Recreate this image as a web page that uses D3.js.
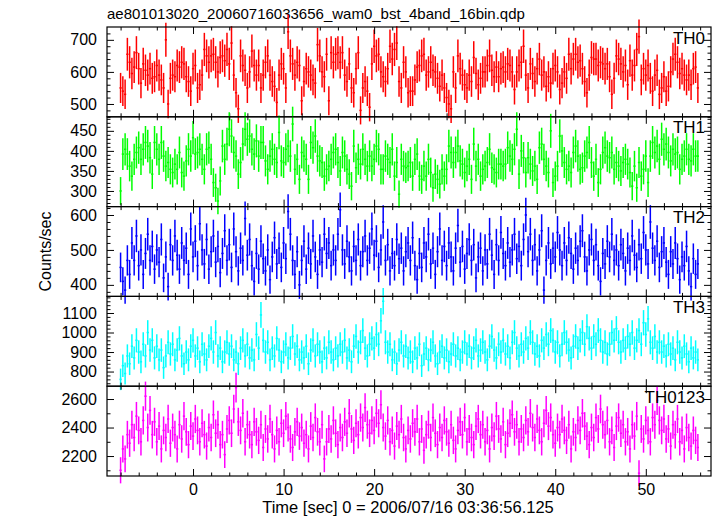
<!DOCTYPE html>
<html><head><meta charset="utf-8">
<script src="https://cdn.jsdelivr.net/npm/d3@7"></script>
<style>body{margin:0;background:#fff}svg{display:block}</style>
</head><body>
<svg id="chart" width="717" height="516"></svg>
<script>
const title = "ae801013020_20060716033656_wam0_bst_4band_16bin.qdp";
const xLabel = "Time [sec] 0 = 2006/07/16 03:36:56.125";
const yLabel = "Counts/sec";
const binStart = -8.125;
const binSec = 0.25;
const xTickLabels = [0, 10, 20, 30, 40, 50];

const th0 = [550,540,530,655,630,595,615,660,610,565,625,605,590,610,580,585,620,590,575,550,700,500,580,590,585,620,615,630,625,585,570,540,610,620,550,560,590,670,650,630,650,655,630,600,645,650,635,670,625,690,590,535,485,650,620,605,550,600,665,620,590,620,550,590,630,650,590,570,555,505,590,625,610,550,725,650,625,590,630,620,510,570,610,600,590,575,565,685,650,600,585,655,510,660,630,655,660,630,660,590,570,625,550,535,610,660,480,550,570,540,490,625,680,650,655,600,585,570,610,680,640,670,690,570,550,630,600,535,
540,540,575,615,620,650,655,590,600,630,605,600,580,555,590,550,520,500,485,600,550,650,610,590,560,550,590,570,645,595,560,580,600,600,620,650,605,585,615,585,610,615,600,625,620,600,545,600,620,630,680,590,550,625,595,570,610,640,590,600,555,585,565,610,620,600,545,565,600,580,655,610,640,655,630,635,610,570,535,590,645,640,640,620,630,625,610,625,585,530,580,650,640,625,600,620,560,635,590,620,670,710,575,610,590,620,580,540,590,605,530,550,585,540,555,600,640,655,630,595,610,590,575,590,560,610,615,550];
const th1 = [300,392,404,392,362,337,379,396,408,379,404,421,412,383,342,421,404,379,421,387,362,371,354,346,367,354,396,346,337,375,404,387,433,392,396,404,379,354,404,408,379,321,308,275,325,412,379,417,454,437,396,387,342,371,417,454,429,437,404,392,425,387,421,421,375,354,387,404,379,371,446,375,371,404,412,387,467,354,379,329,396,387,379,329,421,408,437,387,375,371,337,354,362,379,396,404,371,350,396,387,354,342,312,412,358,379,367,404,379,362,387,362,379,412,404,354,354,387,379,371,404,337,371,292,379,362,358,362,
371,337,379,392,337,329,362,337,379,346,308,342,329,317,354,337,354,412,396,371,396,412,375,367,346,362,379,329,417,362,379,337,354,362,371,404,358,354,346,367,367,362,367,408,387,379,404,454,342,400,383,346,383,367,350,362,329,408,417,379,362,346,450,321,337,362,437,400,371,354,362,346,396,412,387,354,358,387,396,421,371,337,379,321,354,396,408,387,383,396,354,371,362,350,371,379,367,346,312,362,308,371,337,354,387,321,387,421,396,412,379,429,404,417,396,375,404,392,396,354,379,387,404,379,375,404,387,387];
const th2 = [450,410,385,470,430,520,470,540,455,500,430,490,545,470,510,445,
500,465,530,420,480,395,515,470,540,485,445,520,470,505,430,560,
480,525,455,575,500,460,530,445,495,540,465,510,435,490,555,470,
515,450,560,495,440,505,470,590,485,530,455,410,490,445,525,475,
440,500,415,480,535,460,505,450,520,475,610,545,470,430,495,400,
470,525,445,505,460,540,480,430,500,465,545,490,520,455,500,470,
545,615,500,460,525,480,440,510,470,530,455,495,540,470,505,560,
485,525,450,500,580,470,515,440,490,455,530,475,505,440,495,520,
470,535,455,415,490,450,520,480,545,460,505,430,495,560,470,510,
455,520,480,440,505,570,465,510,445,490,530,470,515,420,480,505,
440,500,460,545,485,430,515,470,550,490,455,520,465,500,545,475,
510,455,530,600,495,545,470,515,440,500,555,385,470,520,460,505,
480,550,500,455,520,470,535,490,445,505,470,525,555,480,440,500,
530,470,515,455,410,490,460,525,480,545,470,500,455,515,490,440,
505,470,540,485,450,515,475,550,500,460,580,505,470,525,450,495,
520,465,430,495,460,520,475,415,480,455,510,440,395,475,430,460];
const th3 = [760,830,790,880,840,930,870,960,900,850,940,880,1000,910,960,870,
930,860,910,820,880,950,890,940,860,910,970,880,840,900,860,930,
960,880,920,850,940,890,860,930,970,900,1000,880,920,850,900,950,
890,930,860,900,840,920,960,880,940,870,910,860,990,920,1090,960,
900,950,860,920,880,970,910,850,900,940,870,920,980,890,930,860,
900,870,930,840,910,960,880,940,900,850,920,870,950,900,860,920,
880,940,900,960,870,910,850,930,980,900,950,1010,920,880,940,970,
920,990,940,1060,1160,950,900,940,860,900,840,910,950,880,930,870,
900,850,920,870,940,830,890,920,860,910,950,880,840,900,930,870,
910,850,890,940,880,920,860,900,950,890,930,870,920,960,880,910,
950,900,860,930,980,910,870,940,900,960,890,930,870,950,1000,920,
880,940,900,970,920,1000,950,890,930,880,960,920,990,940,1010,960,
900,950,880,940,1000,950,910,870,930,980,920,960,1000,940,1030,970,
920,980,940,1010,960,900,950,890,940,1000,960,1020,950,900,960,920,
980,940,1000,920,960,1010,940,1050,990,1070,950,920,980,900,950,900,
930,880,940,890,920,860,950,900,870,930,890,850,920,870,900,860];
const th0123 = [2100,2250,2180,2350,2290,2420,2330,2480,2380,2300,2450,2620,2400,2520,2350,2440,
2300,2410,2250,2380,2330,2460,2290,2400,2350,2250,2420,2320,2480,2370,2280,2410,
2340,2460,2380,2300,2430,2350,2270,2400,2330,2490,2360,2420,2280,2350,2210,2390,
2450,2360,2530,2680,2440,2380,2500,2300,2420,2350,2280,2440,2370,2310,2420,2260,
2390,2320,2460,2350,2250,2380,2300,2430,2360,2480,2400,2320,2260,2370,2440,2340,
2400,2290,2350,2250,2410,2330,2470,2370,2300,2420,2180,2300,2390,2320,2450,2360,
2280,2400,2330,2440,2360,2500,2390,2310,2430,2350,2470,2400,2540,2420,2360,2450,
2380,2500,2430,2560,2400,2340,2450,2300,2380,2270,2410,2350,2460,2330,2250,2380,
2320,2430,2370,2460,2300,2390,2240,2350,2420,2330,2470,2360,2280,2400,2330,2450,
2370,2290,2420,2310,2250,2380,2440,2350,2470,2300,2390,2330,2280,2410,2460,2350,
2420,2300,2380,2250,2400,2340,2480,2390,2320,2440,2280,2360,2430,2490,2370,2420,
2300,2390,2330,2450,2370,2500,2400,2330,2460,2380,2300,2430,2520,2410,2470,2350,
2290,2400,2350,2460,2380,2310,2420,2250,2370,2330,2450,2380,2500,2410,2340,2280,
2400,2330,2470,2390,2530,2420,2350,2450,2300,2380,2260,2410,2470,2360,2420,2300,
2370,2250,2420,2340,2480,2080,2390,2320,2450,2380,2300,2470,2420,2590,2450,2380,
2460,2320,2390,2270,2420,2350,2460,2300,2380,2250,2400,2330,2270,2380,2310,2260];

const panels = [
  {name: "TH0", values: th0, color: "#ff0000", domain: [460, 740], major: [500, 600, 700], minorStep: 20},
  {name: "TH1", values: th1, color: "#00ff00", domain: [261, 485], major: [300, 350, 400, 450], minorStep: 10},
  {name: "TH2", values: th2, color: "#0000ff", domain: [367, 624], major: [400, 500, 600], minorStep: 20},
  {name: "TH3", values: th3, color: "#00ffff", domain: [725, 1185], major: [800, 900, 1000, 1100], minorStep: 20},
  {name: "TH0123", values: th0123, color: "#ff00ff", domain: [2060, 2690], major: [2200, 2400, 2600], minorStep: 100}
];

const W = 717, H = 516;
const pLeft = 107, pRight = 711, pTop = 27, pBottom = 476;
const ph = (pBottom - pTop) / panels.length;
const font = "'Liberation Sans', Arial, Helvetica, sans-serif";

const svg = d3.select("#chart");
svg.append("rect").attr("width", W).attr("height", H).attr("fill", "#fff");

const x = d3.scaleLinear().domain([-9.5, 57.2]).range([pLeft, pRight]);
const xMinor = d3.range(-8, 57, 2).filter(v => v % 10 !== 0);

svg.append("text").attr("x", pLeft).attr("y", 19)
  .attr("font-family", font).attr("font-size", 15).attr("fill", "#000").text(title);

panels.forEach((p, k) => {
  const pt = pTop + k * ph, pb = pt + ph;
  const y = d3.scaleLinear().domain(p.domain).range([pb, pt]);
  const g = svg.append("g");
  const data = p.values.map((v, i) => ({t0: binStart + i * binSec, t1: binStart + (i + 1) * binSec, tc: binStart + (i + 0.5) * binSec, v, e: Math.sqrt(v * binSec) / binSec}));

  g.selectAll("line.eb").data(data).join("line").attr("class", "eb")
    .attr("x1", d => x(d.tc)).attr("x2", d => x(d.tc))
    .attr("y1", d => y(d.v - d.e)).attr("y2", d => y(d.v + d.e))
    .attr("stroke", p.color).attr("stroke-width", 1.5);
  g.selectAll("line.hb").data(data).join("line").attr("class", "hb")
    .attr("x1", d => x(d.t0)).attr("x2", d => x(d.t1))
    .attr("y1", d => y(d.v)).attr("y2", d => y(d.v))
    .attr("stroke", p.color).attr("stroke-width", 1.5);

  const yMinor = d3.range(Math.ceil(p.domain[0] / p.minorStep) * p.minorStep, p.domain[1], p.minorStep).filter(v => !p.major.includes(v));
  svg.append("g").attr("transform", `translate(${pLeft},0)`)
    .call(d3.axisLeft(y).tickValues(p.major).tickSize(-7).tickPadding(10).tickFormat(d3.format("d")));
  svg.append("g").attr("transform", `translate(${pLeft},0)`)
    .call(d3.axisLeft(y).tickValues(yMinor).tickSize(-3.5).tickFormat(""));
  svg.append("g").attr("transform", `translate(${pRight},0)`)
    .call(d3.axisRight(y).tickValues(p.major).tickSize(-7).tickFormat(""));
  svg.append("g").attr("transform", `translate(${pRight},0)`)
    .call(d3.axisRight(y).tickValues(yMinor).tickSize(-3.5).tickFormat(""));

  svg.append("g").attr("transform", `translate(0,${pt})`)
    .call(d3.axisTop(x).tickValues(xTickLabels).tickSize(-7).tickFormat(""));
  svg.append("g").attr("transform", `translate(0,${pt})`)
    .call(d3.axisTop(x).tickValues(xMinor).tickSize(-3.5).tickFormat(""));
  svg.append("g").attr("transform", `translate(0,${pb})`)
    .call(d3.axisBottom(x).tickValues(xTickLabels).tickSize(-7).tickPadding(8).tickFormat(k === panels.length - 1 ? d3.format("d") : ""));
  svg.append("g").attr("transform", `translate(0,${pb})`)
    .call(d3.axisBottom(x).tickValues(xMinor).tickSize(-3.5).tickFormat(""));

  svg.append("rect").attr("x", pLeft).attr("y", pt).attr("width", pRight - pLeft).attr("height", ph)
    .attr("fill", "none").attr("stroke", "#000").attr("stroke-width", 1.2);

  svg.append("text").attr("x", 705).attr("y", pt + 16.5).attr("text-anchor", "end")
    .attr("font-family", font).attr("font-size", 17).attr("fill", "#000").text(p.name);
});

svg.selectAll(".domain").remove();
svg.selectAll(".tick line").attr("stroke", "#000").attr("stroke-width", 1);
svg.selectAll(".tick text").attr("font-family", font).attr("font-size", 16).attr("fill", "#000");

svg.append("text").attr("x", 408).attr("y", 513).attr("text-anchor", "middle")
  .attr("font-family", font).attr("font-size", 16.5).attr("fill", "#000").text(xLabel);
svg.append("text").attr("transform", `translate(51,${(pTop + pBottom) / 2}) rotate(-90)`).attr("text-anchor", "middle")
  .attr("font-family", font).attr("font-size", 16).attr("fill", "#000").text(yLabel);
</script>
</body></html>
